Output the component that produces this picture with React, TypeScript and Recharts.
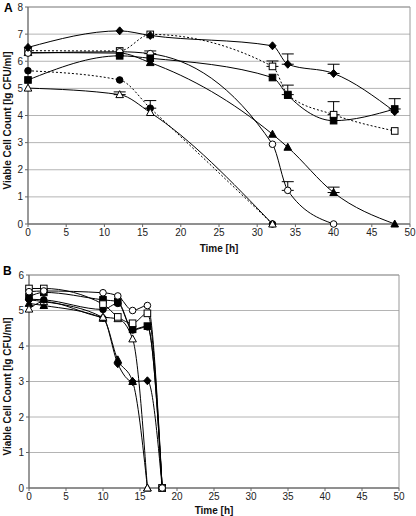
import React from 'react';
import {
  LineChart,
  Line,
  XAxis,
  YAxis,
  CartesianGrid,
  ErrorBar,
  ReferenceArea,
  Label,
} from 'recharts';

// ---- panel A data ----
const A_TIMES = [0, 12, 16, 32, 34, 40, 48];
const A_DIAMOND = [6.51, 7.12, 6.95, 6.57, 5.89, 5.55, 4.14];
const A_DIAMOND_ERR = [null, null, null, null, 0.38, 0.34, null];
const A_OPEN_SQUARE = [6.39, 6.38, 6.99, 5.81, 4.77, 4.03, 3.43];
const A_OPEN_SQUARE_ERR = [null, null, null, 0.2, 0.35, 0.48, null];
const A_FILLED_SQUARE = [5.31, 6.2, 6.11, 5.4, 4.75, 3.81, 4.24];
const A_FILLED_SQUARE_ERR = [null, null, null, null, null, null, 0.38];
const A_OPEN_CIRCLE = [6.3, 6.35, 6.28, 2.94, 1.24, 0];
const A_OPEN_CIRCLE_ERR = [null, null, 0.1, null, 0.32, null];
const A_FILLED_TRIANGLE = [6.32, 6.3, 5.95, 3.31, 2.83, 1.16, 0];
const A_FILLED_TRIANGLE_ERR = [null, null, null, null, null, 0.2, null];
const A_FILLED_CIRCLE = [5.65, 5.31, 4.27, 0];
const A_FILLED_CIRCLE_ERR = [null, null, 0.28, null];
const A_OPEN_TRIANGLE = [5.01, 4.77, 4.11, 0];
const A_OPEN_TRIANGLE_ERR = [null, 0.1, null, null];

// ---- panel B data ----
const B_TIMES = [0, 2, 10, 12, 14, 16, 18];
const B_OPEN_CIRCLE = [5.53, 5.55, 5.5, 5.41, 5.0, 5.14, 0];
const B_OPEN_SQUARE = [5.62, 5.62, 5.18, 4.82, 4.64, 4.92, 0];
const B_FILLED_SQUARE = [5.39, 5.51, 5.3, 5.25, 4.47, 4.56, 0];
const B_FILLED_CIRCLE = [5.32, 5.3, 5.03, 5.2, 4.45, 4.54, 0];
const B_OPEN_TRIANGLE = [5.04, 5.25, 4.81, 4.77, 4.2, 0];
const B_FILLED_TRIANGLE = [5.2, 5.14, 4.78, 3.61, 3.0, 0];
const B_FILLED_DIAMOND = [5.3, 5.25, 4.8, 3.5, 3.0, 3.02, 0];

const X_TICKS = [0, 5, 10, 15, 20, 25, 30, 35, 40, 45, 50];
const A_Y_TICKS = [0, 1, 2, 3, 4, 5, 6, 7, 8];
const B_Y_TICKS = [0, 1, 2, 3, 4, 5, 6];

const FONT = '"Liberation Sans", Arial, sans-serif';

type Shape = 'diamond' | 'openSquare' | 'filledSquare' | 'openCircle' | 'filledCircle' | 'filledTriangle' | 'openTriangle';

function build(times: number[], vals: number[], errs?: (number | null)[]) {
  return vals.map((v, i) => ({
    t: times[i],
    v,
    err: errs && errs[i] != null ? [0, errs[i]] : null,
  }));
}

function Marker({ cx, cy, shape }: { cx: number; cy: number; shape: Shape }) {
  if (cx == null || cy == null) return null;
  const s = 3.3;
  const filled = !shape.startsWith('open');
  const fill = filled ? '#000' : '#fff';
  const common = { fill, stroke: '#000', strokeWidth: 1 };
  if (shape === 'diamond')
    return <polygon points={`${cx},${cy - 4} ${cx + 3.6},${cy} ${cx},${cy + 4} ${cx - 3.6},${cy}`} {...common} />;
  if (shape === 'openSquare' || shape === 'filledSquare')
    return <rect x={cx - s} y={cy - s} width={s * 2} height={s * 2} {...common} />;
  if (shape === 'openCircle' || shape === 'filledCircle')
    return <circle cx={cx} cy={cy} r={s} {...common} />;
  return <polygon points={`${cx},${cy - 4} ${cx + 3.8},${cy + 3} ${cx - 3.8},${cy + 3}`} {...common} />;
}

function series(
  id: string,
  data: any[],
  shape: Shape,
  dashed = false,
  withErr = false,
) {
  return (
    <Line
      key={id}
      data={data}
      dataKey="v"
      type="monotone"
      stroke="#000"
      strokeWidth={1}
      strokeDasharray={dashed ? '2 2' : undefined}
      isAnimationActive={false}
      activeDot={false}
      dot={(p: any) => <Marker key={`${id}-${p.index}`} cx={p.cx} cy={p.cy} shape={shape} />}
    >
      {withErr && <ErrorBar dataKey="err" direction="y" width={6} stroke="#000" strokeWidth={1} />}
    </Line>
  );
}

const tickStyle = { fontSize: 10, fill: '#222', fontFamily: FONT };

function YTitle({ viewBox }: any) {
  const cy = viewBox.y + viewBox.height / 2 + 5;
  return (
    <text
      x={7}
      y={cy}
      transform={`rotate(-90, 7, ${cy})`}
      textAnchor="middle"
      dominantBaseline="central"
      style={{ fontSize: 10, fontWeight: 'bold', fontFamily: FONT, fill: '#111' }}
    >
      Viable Cell Count [lg CFU/ml]
    </text>
  );
}

function XTitle({ viewBox, y }: any) {
  return (
    <text
      x={viewBox.x + viewBox.width / 2}
      y={y}
      textAnchor="middle"
      dominantBaseline="central"
      style={{ fontSize: 10, fontWeight: 'bold', fontFamily: FONT, fill: '#111' }}
    >
      Time [h]
    </text>
  );
}

export default function App() {
  return (
    <div style={{ position: 'fixed', left: 0, top: 0, width: 416, height: 516, background: '#fff' }}>
      <div style={{ position: 'absolute', left: 4, top: 1, fontSize: 12, fontWeight: 'bold', fontFamily: FONT }}>A</div>
      <div style={{ position: 'absolute', left: 3, top: 264, fontSize: 12, fontWeight: 'bold', fontFamily: FONT }}>B</div>

      <div style={{ position: 'absolute', left: 0, top: 0 }}>
        <LineChart width={416} height={260} margin={{ top: 7, right: 6, left: 0, bottom: 0 }}>
          <CartesianGrid horizontal vertical={false} stroke="#b4b4b4" />
          <ReferenceArea x1={0} x2={50} y1={0} y2={8} fill="none" stroke="#999" strokeOpacity={1} ifOverflow="visible" />
          <XAxis
            type="number"
            dataKey="t"
            domain={[0, 50]}
            ticks={X_TICKS}
            tick={tickStyle}
            tickSize={3}
            height={36}
            stroke="#666"
            allowDuplicatedCategory={false}
          >
            <Label content={(p: any) => <XTitle {...p} y={248} />} />
          </XAxis>
          <YAxis type="number" domain={[0, 8]} ticks={A_Y_TICKS} tick={tickStyle} tickSize={3} width={28} stroke="#666">
            <Label content={(p: any) => <YTitle {...p} />} />
          </YAxis>
          {series('a-os', build(A_TIMES, A_OPEN_SQUARE, A_OPEN_SQUARE_ERR), 'openSquare', true, true)}
          {series('a-fc', build(A_TIMES, A_FILLED_CIRCLE, A_FILLED_CIRCLE_ERR), 'filledCircle', true, true)}
          {series('a-ot', build(A_TIMES, A_OPEN_TRIANGLE, A_OPEN_TRIANGLE_ERR), 'openTriangle', false, true)}
          {series('a-ft', build(A_TIMES, A_FILLED_TRIANGLE, A_FILLED_TRIANGLE_ERR), 'filledTriangle', false, true)}
          {series('a-oc', build(A_TIMES, A_OPEN_CIRCLE, A_OPEN_CIRCLE_ERR), 'openCircle', false, true)}
          {series('a-fs', build(A_TIMES, A_FILLED_SQUARE, A_FILLED_SQUARE_ERR), 'filledSquare', false, true)}
          {series('a-d', build(A_TIMES, A_DIAMOND, A_DIAMOND_ERR), 'diamond', false, true)}
        </LineChart>
      </div>

      <div style={{ position: 'absolute', left: 0, top: 260 }}>
        <LineChart width={416} height={256} margin={{ top: 15, right: 17, left: 0, bottom: 0 }}>
          <CartesianGrid horizontal vertical={false} stroke="#b4b4b4" />
          <ReferenceArea x1={0} x2={50} y1={0} y2={6} fill="none" stroke="#999" strokeOpacity={1} ifOverflow="visible" />
          <XAxis
            type="number"
            dataKey="t"
            domain={[0, 50]}
            ticks={X_TICKS}
            tick={tickStyle}
            tickSize={3}
            height={28}
            stroke="#666"
            allowDuplicatedCategory={false}
          >
            <Label content={(p: any) => <XTitle {...p} y={250} />} />
          </XAxis>
          <YAxis type="number" domain={[0, 6]} ticks={B_Y_TICKS} tick={tickStyle} tickSize={3} width={29} stroke="#666">
            <Label content={(p: any) => <YTitle {...p} />} />
          </YAxis>
          {series('b-d', build(B_TIMES, B_FILLED_DIAMOND), 'diamond')}
          {series('b-ft', build(B_TIMES, B_FILLED_TRIANGLE), 'filledTriangle')}
          {series('b-ot', build(B_TIMES, B_OPEN_TRIANGLE), 'openTriangle')}
          {series('b-fc', build(B_TIMES, B_FILLED_CIRCLE), 'filledCircle')}
          {series('b-fs', build(B_TIMES, B_FILLED_SQUARE), 'filledSquare')}
          {series('b-os', build(B_TIMES, B_OPEN_SQUARE), 'openSquare')}
          {series('b-oc', build(B_TIMES, B_OPEN_CIRCLE), 'openCircle')}
        </LineChart>
      </div>
    </div>
  );
}
